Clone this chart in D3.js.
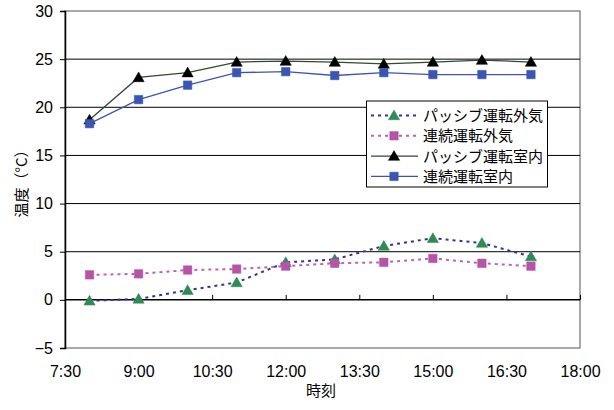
<!DOCTYPE html>
<html><head><meta charset="utf-8">
<script src="https://cdn.jsdelivr.net/npm/d3@7"></script>
<style>
body{margin:0;background:#fff;}
text{font-family:"Liberation Sans",Arial,"Noto Sans CJK JP",sans-serif;}
.jp{font-family:"Noto Sans CJK JP","Liberation Sans",sans-serif;}
</style></head>
<body>
<svg id="chart" width="614" height="410"></svg>
<script>
// Hours of measurement (decimal hours)
const hours = [8, 9, 10, 11, 12, 13, 14, 15, 16, 17];
// Temperatures (°C)
const passiveOutdoor = [-0.1, 0.1, 1.0, 1.8, 3.9, 4.2, 5.6, 6.4, 5.9, 4.5];
const continuousOutdoor = [2.6, 2.7, 3.1, 3.2, 3.5, 3.8, 3.9, 4.3, 3.8, 3.5];
const passiveIndoor = [18.7, 23.1, 23.6, 24.7, 24.8, 24.7, 24.5, 24.7, 24.9, 24.7];
const continuousIndoor = [18.3, 20.8, 22.3, 23.6, 23.7, 23.3, 23.6, 23.4, 23.4, 23.4];
// Axis ticks
const xTicks = [7.5, 9, 10.5, 12, 13.5, 15, 16.5, 18];
const xTickLabels = ["7:30", "9:00", "10:30", "12:00", "13:30", "15:00", "16:30", "18:00"];
const yTicks = [-5, 0, 5, 10, 15, 20, 25, 30];

const series = [
  {name: "パッシブ運転外気", values: passiveOutdoor, line: "#333399", dash: "3,4", marker: "tri", fill: "#2e8b57"},
  {name: "連続運転外気", values: continuousOutdoor, line: "#c060b0", dash: "3,4", marker: "sq", fill: "#b455a8"},
  {name: "パッシブ運転室内", values: passiveIndoor, line: "#2f4a2f", dash: null, marker: "tri", fill: "#000000"},
  {name: "連続運転室内", values: continuousIndoor, line: "#3a56b0", dash: null, marker: "sq", fill: "#3a56b0"}
];

const svg = d3.select("#chart");
const L = 65, R = 580, T = 11, B = 348;
const x = d3.scaleLinear().domain([7.5, 18]).range([L, R]);
const y = d3.scaleLinear().domain([-5, 30]).range([B, T]);

// Plot area border
svg.append("rect").attr("x", L).attr("y", T).attr("width", R - L).attr("height", B - T)
  .attr("fill", "#fff").attr("stroke", "#8c8c8c").attr("stroke-width", 1.5);

// Horizontal gridlines
svg.append("g").selectAll("line").data(yTicks.filter(v => v > 0 && v < 30)).join("line")
  .attr("x1", L).attr("x2", R).attr("y1", d => y(d)).attr("y2", d => y(d))
  .attr("stroke", "#000").attr("stroke-width", 1);

// Y axis
const yAxis = d3.axisLeft(y).tickValues(yTicks).tickSize(5).tickPadding(7).tickFormat(d => d < 0 ? "−" + Math.abs(d) : d);
const gy = svg.append("g").attr("transform", `translate(${L},0)`).call(yAxis);
gy.select(".domain").attr("stroke", "#000").attr("stroke-width", 1.5);
gy.selectAll(".tick line").attr("stroke", "#000");
gy.selectAll("text").attr("font-size", 16).attr("fill", "#000");

// X axis crossing at 0, with ticks pointing up
const xAxisLine = d3.axisTop(x).tickValues(xTicks).tickSize(5).tickFormat("");
const gx = svg.append("g").attr("transform", `translate(0,${y(0)})`).call(xAxisLine);
gx.select(".domain").attr("stroke", "#000").attr("stroke-width", 1.5).attr("d", `M${L},0H${R}`);
gx.selectAll(".tick line").attr("stroke", "#000");

// X tick labels along the bottom
const xLabels = d3.axisBottom(x).tickValues(xTicks).tickSize(0).tickPadding(18).tickFormat((d, i) => xTickLabels[i]);
const gxl = svg.append("g").attr("transform", `translate(0,${B})`).call(xLabels);
gxl.select(".domain").remove();
gxl.selectAll("text").attr("font-size", 16).attr("fill", "#000");

// Axis titles
svg.append("text").attr("class", "jp").attr("x", 321).attr("y", 396).attr("text-anchor", "middle")
  .attr("font-size", 15).text("時刻");
svg.append("text").attr("class", "jp").attr("transform", "translate(27,180) rotate(-90)")
  .attr("text-anchor", "middle").attr("font-size", 15).text("温度（°C）");

const lineGen = d3.line().x((d, i) => x(hours[i])).y(d => y(d));
const triPath = d3.symbol().type(d3.symbolTriangle).size(55)();
const sqPath = d3.symbol().type(d3.symbolSquare).size(72)();

function drawMarker(g, s, cx, cy) {
  g.append("path").attr("d", s.marker === "tri" ? triPath : sqPath)
    .attr("transform", `translate(${cx},${cy + (s.marker === "tri" ? 1 : 0)})`)
    .attr("fill", s.fill).attr("stroke", s.fill).attr("stroke-width", 0.5);
}

series.forEach(s => {
  const g = svg.append("g");
  g.append("path").datum(s.values).attr("d", lineGen).attr("fill", "none")
    .attr("stroke", s.line).attr("stroke-width", s.dash ? 2 : 1.3)
    .attr("stroke-dasharray", s.dash);
  s.values.forEach((v, i) => drawMarker(g, s, x(hours[i]), y(v)));
});

// Legend
const lg = svg.append("g");
lg.append("rect").attr("x", 366.5).attr("y", 101).attr("width", 181).attr("height", 86)
  .attr("fill", "#fff").attr("stroke", "#000").attr("stroke-width", 1);
series.forEach((s, i) => {
  const cy = 115.5 + i * 20.3;
  lg.append("line").attr("x1", 371).attr("x2", 418).attr("y1", cy).attr("y2", cy)
    .attr("stroke", s.line).attr("stroke-width", s.dash ? 2 : 1.3).attr("stroke-dasharray", s.dash);
  drawMarker(lg, s, 394, cy);
  lg.append("text").attr("class", "jp").attr("x", 423).attr("y", cy + 5.5)
    .attr("font-size", 15).text(s.name);
});
</script>
</body></html>
